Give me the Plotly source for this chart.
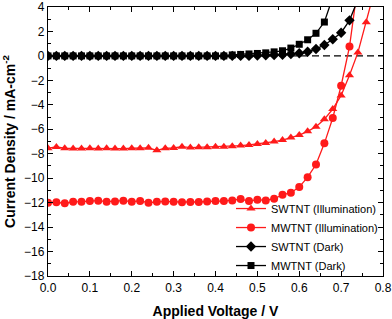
import plotly.graph_objects as go

voltage = [round(0.02 * i, 2) for i in range(40)]

sw_illum = [-7.55, -7.45, -7.55, -7.58, -7.57, -7.56, -7.58, -7.55, -7.57, -7.58,
            -7.55, -7.56, -7.52, -7.72, -7.55, -7.53, -7.42, -7.50, -7.48, -7.47,
            -7.43, -7.42, -7.39, -7.33, -7.28, -7.20, -7.12, -7.01, -6.88, -6.68,
            -6.47, -6.17, -5.79, -5.18, -4.35, -3.23, -1.58, 0.27, 2.75, 5.4]

mw_illum = [-12.0, -11.97, -12.06, -11.93, -11.92, -11.87, -11.84, -11.92, -11.9, -11.84,
            -11.92, -11.86, -12.0, -11.93, -11.9, -11.93, -11.96, -11.95, -11.95, -11.9,
            -11.87, -11.87, -11.82, -11.71, -11.87, -11.76, -11.82, -11.68, -11.36, -11.19,
            -10.73, -9.92, -8.88, -7.15, -5.08, -2.44, 0.76, 5.8]

sw_dark = [0.0] * 25 + [0.03, 0.05, 0.08, 0.10, 0.15, 0.22, 0.34, 0.57, 0.89, 1.36,
                        1.90, 2.91, 4.6]

mw_dark = [0.0] * 22 + [0.08, 0.12, 0.16, 0.20, 0.25, 0.33, 0.42, 0.64, 0.95, 1.32,
                        1.85, 2.77, 4.8]

red = "#ff1a1a"
fig = go.Figure()

def add(y, name, color, symbol, size):
    fig.add_trace(go.Scatter(
        x=voltage[:len(y)], y=y, name=name, mode="lines+markers",
        line=dict(color=color, width=1.3),
        marker=dict(symbol=symbol, size=size, color=color)))

fig.add_shape(type="line", xref="x", yref="y", x0=0, x1=0.8, y0=0, y1=0,
              line=dict(color="black", width=1.3, dash="7px,4px"), layer="below")

add(sw_illum, "SWTNT (Illumination)", red, "triangle-up", 8)
add(mw_illum, "MWTNT (Illumination)", red, "circle", 8)
add(sw_dark, "SWTNT (Dark)", "black", "diamond", 8)
add(mw_dark, "MWTNT (Dark)", "black", "square", 7)

font_family = "Liberation Sans, Arial"
axis_common = dict(showline=True, linecolor="black", linewidth=1.3, mirror="ticks",
                   ticks="inside", ticklen=5, tickwidth=1.2, tickcolor="black",
                   showgrid=False, zeroline=False, automargin=False,
                   tickfont=dict(family=font_family, size=12, color="black"))

fig.update_xaxes(range=[0, 0.8], dtick=0.1, tickformat=".1f",
                 minor=dict(dtick=0.05, ticks="inside", ticklen=3, tickcolor="black"),
                 title=dict(text="<b>Applied Voltage / V</b>", standoff=12,
                            font=dict(family=font_family, size=14, color="black")),
                 **axis_common)
fig.update_yaxes(range=[-18, 4], dtick=2,
                 minor=dict(dtick=1, ticks="inside", ticklen=3, tickcolor="black"),
                 title=dict(text="<b>Current Density / mA-cm<sup>-2</sup></b>", standoff=6,
                            font=dict(family=font_family, size=14, color="black")),
                 **axis_common)

fig.update_layout(
    width=392, height=319,
    margin=dict(l=48, r=9, t=7, b=43),
    paper_bgcolor="white", plot_bgcolor="white",
    showlegend=True,
    legend=dict(x=1.0, y=-0.015, xanchor="right", yanchor="bottom",
                bgcolor="rgba(0,0,0,0)", itemwidth=30,
                font=dict(family=font_family, size=11, color="black")),
)

fig.write_html("out.html", config={"displayModeBar": False},
               post_script="document.body.style.margin='0';document.body.style.padding='0';")
